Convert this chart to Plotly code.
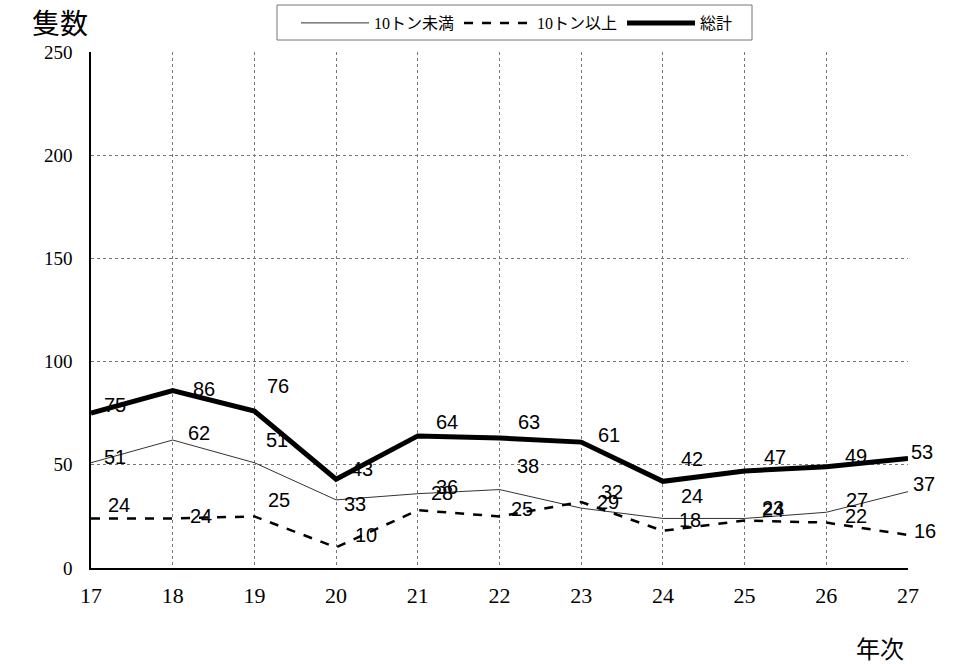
import plotly.graph_objects as go

years = [17, 18, 19, 20, 21, 22, 23, 24, 25, 26, 27]
under10 = [51, 62, 51, 33, 36, 38, 29, 24, 24, 27, 37]
over10 = [24, 24, 25, 10, 28, 25, 32, 18, 23, 22, 16]
total = [75, 86, 76, 43, 64, 63, 61, 42, 47, 49, 53]
y_ticks = [0, 50, 100, 150, 200, 250]

# label offsets in px (dx right, dy down)
off_total = [(24, -8), (31, -2), (24, -25), (26, -10), (29, -14), (29, -16),
             (28, -7), (29, -22), (30, -14), (30, -11), (14, -7)]
off_under = [(24, -6), (26, -7), (23, -23), (19, 4), (29, -7), (28, -24),
             (27, -6), (29, -22), (28, -8), (31, -12), (16, -8)]
off_over = [(28, -13), (28, -2), (25, -16), (30, -12), (24, -17), (22, -7),
            (31, -10), (27, -11), (28, -13), (30, -7), (17, -4)]

serif = "Liberation Serif, Noto Sans CJK JP, serif"
sans = "Liberation Sans, Noto Sans CJK JP, sans-serif"

W, H = 957, 664
L, R, T, B = 91, 49, 52, 96
pw, ph = W - L - R, H - T - B


def pxx(px):
    return (px - L) / pw


def pxy(py):
    return (H - B - py) / ph


fig = go.Figure()
fig.add_trace(go.Scatter(x=years, y=under10, mode="lines", name="10トン未満",
                         line=dict(color="#333333", width=1)))
fig.add_trace(go.Scatter(x=years, y=over10, mode="lines", name="10トン以上",
                         line=dict(color="black", width=2.5, dash="dash")))
fig.add_trace(go.Scatter(x=years, y=total, mode="lines", name="総計",
                         line=dict(color="black", width=5)))

anns = []
for vals, offs in ((total, off_total), (under10, off_under), (over10, off_over)):
    for x, v, (dx, dy) in zip(years, vals, offs):
        anns.append(dict(x=x, y=v, xref="x", yref="y", text=str(v), showarrow=False,
                         xanchor="center", yanchor="middle",
                         xshift=dx, yshift=-dy, font=dict(family=sans, size=20, color="black")))


def px_ann(text, px, py, size):
    return dict(x=pxx(px), y=pxy(py), xref="paper", yref="paper",
                xanchor="center", yanchor="middle",
                text=text, showarrow=False, font=dict(family=serif, size=size, color="black"))


anns.append(px_ann("隻数", 60, 25, 28))
anns.append(px_ann("年次", 880, 650, 24))

fig.update_layout(
    width=W, height=H,
    margin=dict(l=L, r=R, t=T, b=B, autoexpand=False),
    paper_bgcolor="white", plot_bgcolor="white",
    showlegend=True,
    legend=dict(orientation="h", x=pxx(517), xanchor="center",
                y=pxy(6), yanchor="top", borderwidth=0, bgcolor="rgba(0,0,0,0)",
                font=dict(family=serif, size=16, color="black"),
                itemwidth=68, traceorder="normal"),
    shapes=[dict(type="rect", xref="paper", yref="paper",
                 x0=pxx(277), x1=pxx(752), y0=pxy(40), y1=pxy(5),
                 line=dict(color="#777777", width=1), fillcolor="white", layer="below")],
    annotations=anns,
    xaxis=dict(range=[17, 27], tickvals=years, ticks="", showline=True, linecolor="black",
               linewidth=1.5, showgrid=True, gridcolor="#777777", griddash="dot", gridwidth=1,
               tickfont=dict(family=serif, size=22, color="black"), zeroline=False,
               ticklabelstandoff=7, automargin=False),
    yaxis=dict(range=[0, 250], tickvals=y_ticks, ticks="", showline=True, linecolor="black",
               linewidth=1.5, showgrid=True, gridcolor="#777777", griddash="dot", gridwidth=1,
               tickfont=dict(family=serif, size=19, color="black"), zeroline=False,
               ticklabelstandoff=13, automargin=False),
)

fig.write_html("out.html", config={"displayModeBar": False},
               post_script="document.body.style.margin='0';")
